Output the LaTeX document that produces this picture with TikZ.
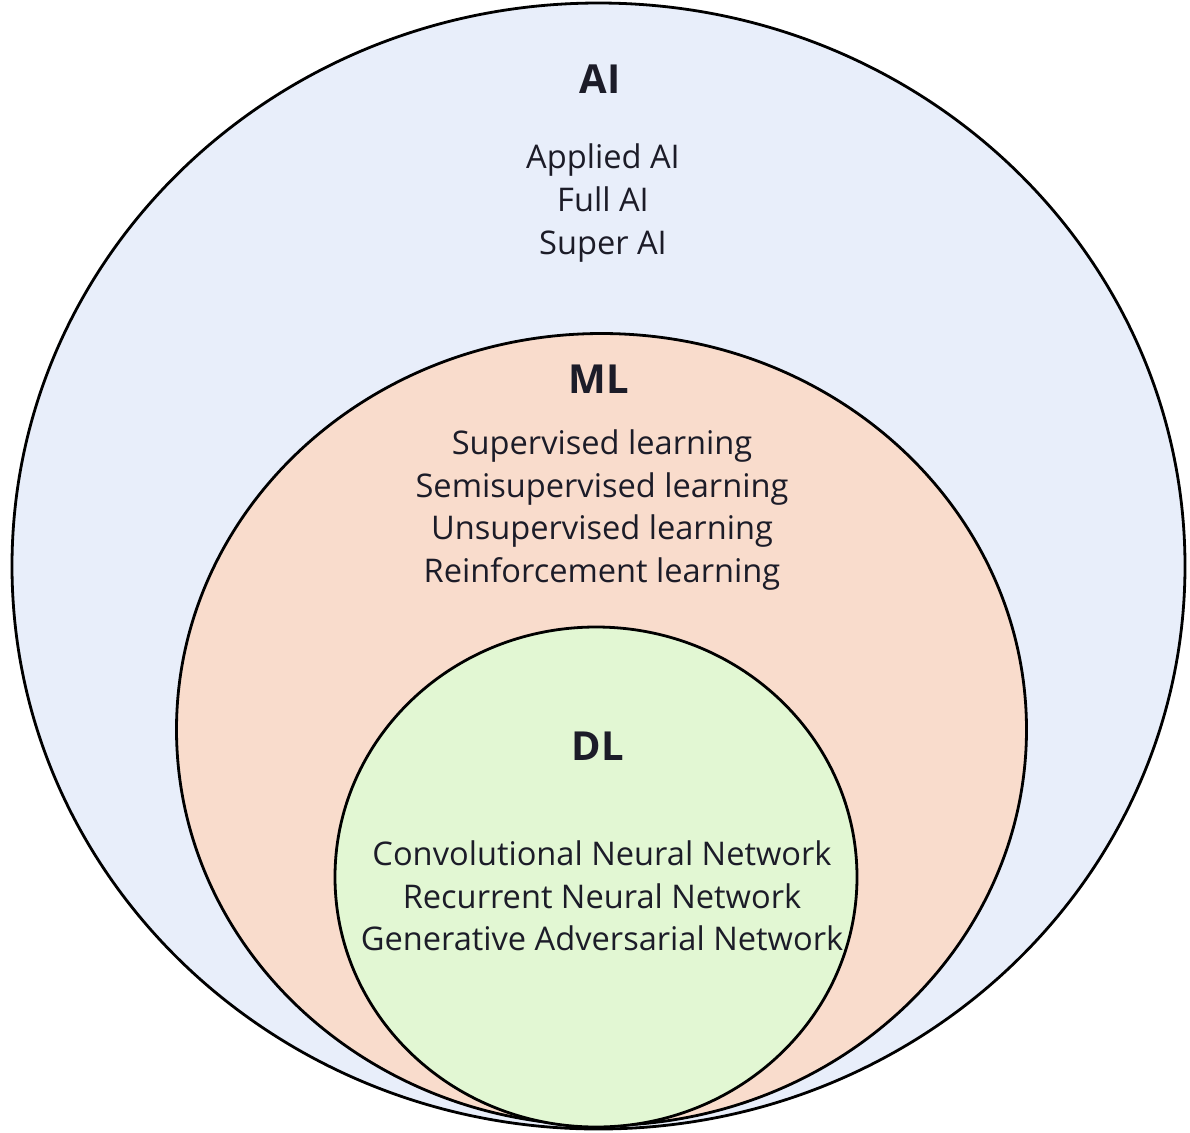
\documentclass[tikz,border=0pt]{standalone}
\usepackage{fontspec}
\setmainfont{Open Sans}
\definecolor{aiblue}{HTML}{E8EEFA}
\definecolor{mlpeach}{HTML}{F9DCCC}
\definecolor{dlgreen}{HTML}{E2F7D3}
\definecolor{ink}{HTML}{1C1C28}

\begin{document}
\begin{tikzpicture}[x=0.5pt,y=-0.5pt,color=black,
  ring/.style={draw=black,line width=1.4pt},
  title/.style={text=ink,font=\fontsize{20}{24}\selectfont\bfseries},
  items/.style={text=ink,align=center,inner sep=0pt,
    font=\fontsize{16.3}{21.3}\selectfont}]
\useasboundingbox (0,0) rectangle (1190,1132);
% the three sets
\filldraw[ring,fill=aiblue] (598.5,566) ellipse [x radius=586.5, y radius=563];
\filldraw[ring,fill=mlpeach] (601.5,729.5) ellipse [x radius=425, y radius=396];
\filldraw[ring,fill=dlgreen] (596,877) ellipse [x radius=261, y radius=250];
% AI
\node[title] (ai) at (600,79) {AI};
\node[items] (aiitems) at (603,203) {Applied AI\\Full AI\\Super AI};
% ML
\node[title] (ml) at (599,379) {ML};
\node[items] (mlitems) at (602,510) {Supervised learning\\Semisupervised learning\\Unsupervised learning\\Reinforcement learning};
% DL
\node[title] (dl) at (598,746) {DL};
\node[items] (dlitems) at (602,896) {Convolutional Neural Network\\Recurrent Neural Network\\Generative Adversarial Network};
\end{tikzpicture}
\end{document}
